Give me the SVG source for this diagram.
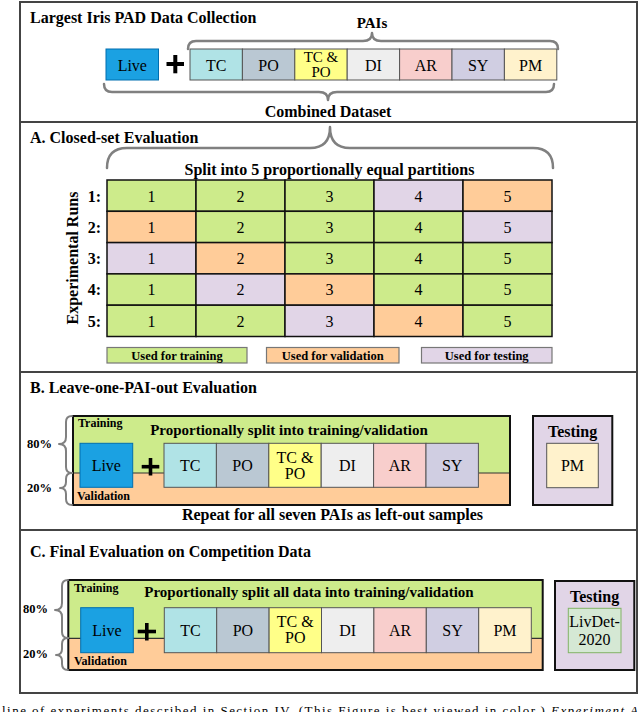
<svg xmlns="http://www.w3.org/2000/svg" width="640" height="712" viewBox="0 0 640 712">
<style>
text{font-family:"Liberation Serif","Times New Roman",serif;fill:#000}
.b{font-weight:bold}
.t16{font-size:16px}
.t15{font-size:15px}
.t12{font-size:12px}
.c{text-anchor:middle}
.frame{fill:#fff;stroke:#444;stroke-width:2}
.div{stroke:#444;stroke-width:2}
.pai{stroke:#555;stroke-width:1}
.cell{stroke:#111;stroke-width:1.5}
.leg{stroke:#777;stroke-width:1.2}
.brace{fill:none;stroke:#808080;stroke-width:2.5;stroke-linecap:round;stroke-linejoin:round}
.brace2{fill:none;stroke:#808080;stroke-width:2;stroke-linecap:round;stroke-linejoin:round}
.plus{stroke:#000;stroke-width:4}
.g{fill:#cdeb8b}
.o{fill:#ffcc99}
.p{fill:#e1d5e7}
.live{fill:#1ba1e2;stroke:#006eaf;stroke-width:1}
.tc{fill:#b0e3e6}
.po{fill:#bac8d3}
.tcpo{fill:#ffff88}
.di{fill:#eeeeee}
.ar{fill:#f8cecc}
.sy{fill:#d0cee2}
.pm{fill:#fff2cc}
</style>
<rect width="640" height="712" fill="#fff"/>
<rect class="frame" x="20" y="2" width="617" height="691"/>
<line class="div" x1="20" y1="122" x2="637" y2="122"/>
<line class="div" x1="20" y1="372" x2="637" y2="372"/>
<line class="div" x1="20" y1="530" x2="637" y2="530"/>

<!-- Top section -->
<g id="top-section">
<text class="b t16" x="30" y="23">Largest Iris PAD Data Collection</text>
<text class="b t15 c" x="372" y="28">PAIs</text>
<text class="b t16 c" x="328" y="117">Combined Dataset</text>
</g>
<g id="top-live"><rect class="live" x="106" y="49" width="52.5" height="31"/><text class="t16 c" x="132.3" y="70.5">Live</text></g>
<g id="top-plus"><line class="plus" x1="166.5" y1="64" x2="184" y2="64"/><line class="plus" x1="175.3" y1="55" x2="175.3" y2="73.3"/></g>
<g id="top-pais">
<rect class="pai tc" x="190" y="49" width="52.4" height="31"/><text class="t16 c" x="216.2" y="70.5">TC</text>
<rect class="pai po" x="242.4" y="49" width="52.4" height="31"/><text class="t16 c" x="268.6" y="70.5">PO</text>
<rect class="pai tcpo" x="294.8" y="49" width="52.4" height="31"/><text class="t15 c" x="321" y="61.5">TC &amp;</text><text class="t15 c" x="321" y="77">PO</text>
<rect class="pai di" x="347.2" y="49" width="52.4" height="31"/><text class="t16 c" x="373.4" y="70.5">DI</text>
<rect class="pai ar" x="399.6" y="49" width="52.4" height="31"/><text class="t16 c" x="425.8" y="70.5">AR</text>
<rect class="pai sy" x="452" y="49" width="52.4" height="31"/><text class="t16 c" x="478.2" y="70.5">SY</text>
<rect class="pai pm" x="504.4" y="49" width="52.4" height="31"/><text class="t16 c" x="530.6" y="70.5">PM</text>
</g>

<!-- Section A -->
<g id="section-a">
<text class="b t16" x="30" y="143">A. Closed-set Evaluation</text>
<text class="b t16 c" x="329.5" y="175">Split into 5 proportionally equal partitions</text>
<text class="b t16 c" transform="translate(77.5,258) rotate(-90)">Experimental Runs</text>
</g>
<g id="grid">
<g class="cell">
<rect class="g" x="107" y="180" width="89" height="31.3"/><rect class="g" x="196" y="180" width="89" height="31.3"/><rect class="g" x="285" y="180" width="89" height="31.3"/><rect class="p" x="374" y="180" width="89" height="31.3"/><rect class="o" x="463" y="180" width="89" height="31.3"/>
<rect class="o" x="107" y="211.3" width="89" height="31.3"/><rect class="g" x="196" y="211.3" width="89" height="31.3"/><rect class="g" x="285" y="211.3" width="89" height="31.3"/><rect class="g" x="374" y="211.3" width="89" height="31.3"/><rect class="p" x="463" y="211.3" width="89" height="31.3"/>
<rect class="p" x="107" y="242.6" width="89" height="31.3"/><rect class="o" x="196" y="242.6" width="89" height="31.3"/><rect class="g" x="285" y="242.6" width="89" height="31.3"/><rect class="g" x="374" y="242.6" width="89" height="31.3"/><rect class="g" x="463" y="242.6" width="89" height="31.3"/>
<rect class="g" x="107" y="273.9" width="89" height="31.3"/><rect class="p" x="196" y="273.9" width="89" height="31.3"/><rect class="o" x="285" y="273.9" width="89" height="31.3"/><rect class="g" x="374" y="273.9" width="89" height="31.3"/><rect class="g" x="463" y="273.9" width="89" height="31.3"/>
<rect class="g" x="107" y="305.2" width="89" height="31.3"/><rect class="g" x="196" y="305.2" width="89" height="31.3"/><rect class="p" x="285" y="305.2" width="89" height="31.3"/><rect class="o" x="374" y="305.2" width="89" height="31.3"/><rect class="g" x="463" y="305.2" width="89" height="31.3"/>
</g>
<g class="t16">
<text class="b" text-anchor="end" x="101" y="201.5">1:</text><text class="c" x="151.5" y="201.5">1</text><text class="c" x="240.5" y="201.5">2</text><text class="c" x="329.5" y="201.5">3</text><text class="c" x="418.5" y="201.5">4</text><text class="c" x="507.5" y="201.5">5</text>
<text class="b" text-anchor="end" x="101" y="232.8">2:</text><text class="c" x="151.5" y="232.8">1</text><text class="c" x="240.5" y="232.8">2</text><text class="c" x="329.5" y="232.8">3</text><text class="c" x="418.5" y="232.8">4</text><text class="c" x="507.5" y="232.8">5</text>
<text class="b" text-anchor="end" x="101" y="264.1">3:</text><text class="c" x="151.5" y="264.1">1</text><text class="c" x="240.5" y="264.1">2</text><text class="c" x="329.5" y="264.1">3</text><text class="c" x="418.5" y="264.1">4</text><text class="c" x="507.5" y="264.1">5</text>
<text class="b" text-anchor="end" x="101" y="295.4">4:</text><text class="c" x="151.5" y="295.4">1</text><text class="c" x="240.5" y="295.4">2</text><text class="c" x="329.5" y="295.4">3</text><text class="c" x="418.5" y="295.4">4</text><text class="c" x="507.5" y="295.4">5</text>
<text class="b" text-anchor="end" x="101" y="326.7">5:</text><text class="c" x="151.5" y="326.7">1</text><text class="c" x="240.5" y="326.7">2</text><text class="c" x="329.5" y="326.7">3</text><text class="c" x="418.5" y="326.7">4</text><text class="c" x="507.5" y="326.7">5</text>
</g>
</g>
<g id="legend-training"><rect class="leg g" x="107" y="347.5" width="140" height="15.5"/><text class="b c" style="font-size:12.5px" x="177" y="359.5">Used for training</text></g>
<g id="legend-validation"><rect class="leg o" x="266.5" y="347.5" width="132.5" height="15.5"/><text class="b c" style="font-size:12.5px" x="332.7" y="359.5">Used for validation</text></g>
<g id="legend-testing"><rect class="leg p" x="421.5" y="347.5" width="130.5" height="15.5"/><text class="b c" style="font-size:12.5px" x="486.7" y="359.5">Used for testing</text></g>

<!-- Section B -->
<g id="section-b">
<text class="b t16" x="30" y="393">B. Leave-one-PAI-out Evaluation</text>
<text class="b t16 c" x="332.5" y="520">Repeat for all seven PAIs as left-out samples</text>
<text class="b" style="font-size:12.5px" x="27" y="448">80%</text>
<text class="b" style="font-size:12.5px" x="27" y="492">20%</text>
</g>
<g id="b-trainval">
<rect class="o" x="73" y="473" width="437" height="32"/>
<rect class="g" x="73" y="416" width="437" height="57"/>
<line x1="73" y1="473" x2="510" y2="473" stroke="#333" stroke-width="1.2"/>
<rect x="73" y="416" width="437" height="89" fill="none" stroke="#111" stroke-width="2"/>
<text class="b t12" x="78" y="427">Training</text>
<text class="b t12" x="77" y="500">Validation</text>
<text class="b t15 c" x="289" y="435">Proportionally split into training/validation</text>
</g>
<g id="b-live"><rect class="live" x="80" y="443.3" width="52.7" height="44"/><text class="t16 c" x="106.3" y="470.7">Live</text></g>
<g id="b-plus"><line class="plus" style="stroke-width:3.6" x1="141.7" y1="466.7" x2="159.3" y2="466.7"/><line class="plus" style="stroke-width:3.6" x1="150.5" y1="458" x2="150.5" y2="475.5"/></g>
<g id="b-pais">
<rect class="pai tc" x="164" y="443.3" width="52.4" height="44"/><text class="t16 c" x="190.2" y="470.7">TC</text>
<rect class="pai po" x="216.4" y="443.3" width="52.4" height="44"/><text class="t16 c" x="242.6" y="470.7">PO</text>
<rect class="pai tcpo" x="268.8" y="443.3" width="52.4" height="44"/><text class="t16 c" x="295" y="462.7">TC &amp;</text><text class="t16 c" x="295" y="479">PO</text>
<rect class="pai di" x="321.2" y="443.3" width="52.4" height="44"/><text class="t16 c" x="347.4" y="470.7">DI</text>
<rect class="pai ar" x="373.6" y="443.3" width="52.4" height="44"/><text class="t16 c" x="399.8" y="470.7">AR</text>
<rect class="pai sy" x="426" y="443.3" width="52.4" height="44"/><text class="t16 c" x="452.2" y="470.7">SY</text>
</g>
<g id="b-testing">
<rect class="p" x="533" y="416" width="79.3" height="89" stroke="#111" stroke-width="2"/>
<text class="b t16 c" x="572.6" y="436.5">Testing</text>
<rect class="pai pm" x="546.7" y="443.3" width="51.6" height="44.4"/><text class="t16 c" x="572.5" y="470.7">PM</text>
</g>

<!-- Section C -->
<g id="section-c">
<text class="b t16" x="30" y="557">C. Final Evaluation on Competition Data</text>
<text class="b" style="font-size:12.5px" x="23" y="613">80%</text>
<text class="b" style="font-size:12.5px" x="23" y="658">20%</text>
</g>
<g id="c-trainval">
<rect class="o" x="68.3" y="638.3" width="474.4" height="31.7"/>
<rect class="g" x="68.3" y="580" width="474.4" height="58.3"/>
<line x1="68.3" y1="638.3" x2="542.7" y2="638.3" stroke="#333" stroke-width="1.2"/>
<rect x="68.3" y="580" width="474.4" height="90" fill="none" stroke="#111" stroke-width="2"/>
<text class="b t12" x="74" y="592">Training</text>
<text class="b t12" x="74" y="665">Validation</text>
<text class="b t15 c" x="309" y="597">Proportionally split all data into training/validation</text>
</g>
<g id="c-live"><rect class="live" x="80.7" y="607.7" width="52.6" height="45"/><text class="t16 c" x="107" y="635.5">Live</text></g>
<g id="c-plus"><line class="plus" style="stroke-width:3.6" x1="137.7" y1="631.5" x2="156" y2="631.5"/><line class="plus" style="stroke-width:3.6" x1="146.8" y1="623" x2="146.8" y2="640.5"/></g>
<g id="c-pais">
<rect class="pai tc" x="164.3" y="607.7" width="52.4" height="45"/><text class="t16 c" x="190.5" y="635.5">TC</text>
<rect class="pai po" x="216.7" y="607.7" width="52.4" height="45"/><text class="t16 c" x="242.9" y="635.5">PO</text>
<rect class="pai tcpo" x="269.1" y="607.7" width="52.4" height="45"/><text class="t16 c" x="295.3" y="626.7">TC &amp;</text><text class="t16 c" x="295.3" y="643">PO</text>
<rect class="pai di" x="321.5" y="607.7" width="52.4" height="45"/><text class="t16 c" x="347.7" y="635.5">DI</text>
<rect class="pai ar" x="373.9" y="607.7" width="52.4" height="45"/><text class="t16 c" x="400.1" y="635.5">AR</text>
<rect class="pai sy" x="426.3" y="607.7" width="52.4" height="45"/><text class="t16 c" x="452.5" y="635.5">SY</text>
<rect class="pai pm" x="478.7" y="607.7" width="52.6" height="45"/><text class="t16 c" x="505" y="635.5">PM</text>
</g>
<g id="c-testing">
<rect class="p" x="555" y="581" width="79.3" height="89" stroke="#111" stroke-width="2"/>
<text class="b t16 c" x="594.6" y="602">Testing</text>
<rect x="568.3" y="608.3" width="52.7" height="44.4" fill="#d5e8d4" stroke="#82b366" stroke-width="1"/>
<text class="t16 c" x="594.6" y="627">LivDet-</text>
<text class="t16 c" x="594.6" y="645">2020</text>
</g>

<!-- Braces -->
<g id="braces">
<path class="brace" d="M188,49 Q188,41 196,41 L363,41 Q372,41 372,33 Q372,41 381,41 L550,41 Q558,41 558,49"/>
<path class="brace" d="M104,84 Q104,92 112,92 L319,92 Q328,92 328,100 Q328,92 337,92 L546,92 Q554,92 554,84"/>
<path class="brace" d="M107,168 Q107,148 127,148 L310,148 Q330,148 330,127 Q330,148 350,148 L533,148 Q553,148 553,168"/>
<path class="brace2" d="M72,416 Q66,416 66,422 L66,437 Q66,444 59,444 Q66,444 66,451 L66,467 Q66,473 72,473"/>
<path class="brace2" d="M72,473 Q66,473 66,479 L66,482 Q66,488 60,488 Q66,488 66,494 L66,499 Q66,505 72,505"/>
<path class="brace2" d="M68,580 Q62,580 62,586 L62,603 Q62,610 55,610 Q62,610 62,617 L62,632 Q62,638 68,638"/>
<path class="brace2" d="M68,638 Q62,638 62,644 L62,649 Q62,655 56,655 Q62,655 62,661 L62,664 Q62,670 68,670"/>
</g>

<g id="caption">
<text x="2" y="715" style="font-size:13px" textLength="636" lengthAdjust="spacing">line of experiments described in Section IV. (This Figure is best viewed in color.) <tspan font-style="italic">Experiment A</tspan></text>
</g>
</svg>
